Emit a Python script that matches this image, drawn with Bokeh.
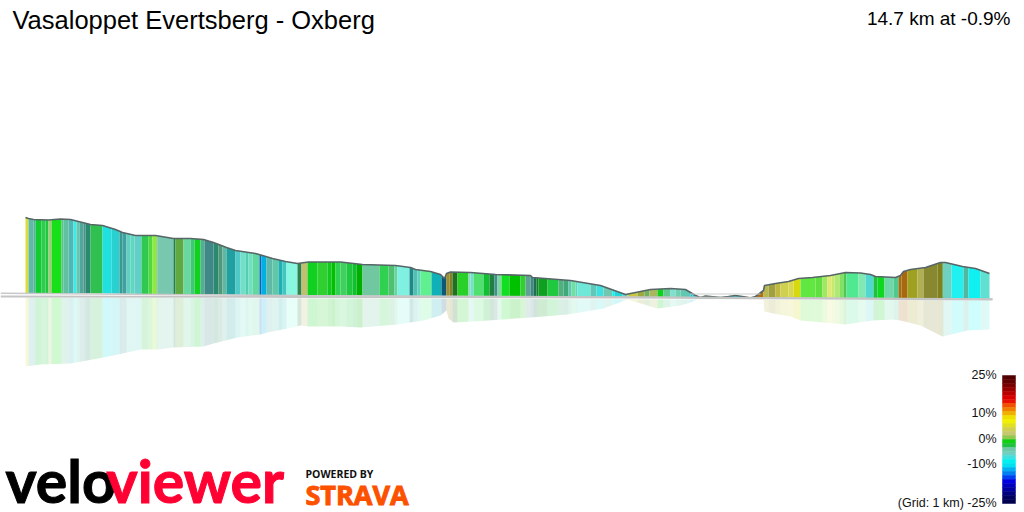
from bokeh.plotting import figure
from bokeh.embed import file_html
from bokeh.resources import INLINE
from bokeh.core.properties import value

title_text = "Vasaloppet Evertsberg - Oxberg"
summary_text = "14.7 km at -0.9%"

segment_edges = [25,
    28, 33, 35, 41, 45, 48, 51, 61, 63, 68,
    73, 76, 79, 83, 85, 90, 102, 111, 119, 122,
    126, 130, 134, 141, 148, 152, 156, 157, 173, 175,
    183, 190, 194, 200, 204, 213, 218, 222, 226, 235,
    240, 245, 248, 252, 259, 261, 266, 272, 278, 282,
    286, 297, 301, 307, 317, 327, 331, 335, 340, 346,
    352, 356, 362, 379, 388, 394, 397, 409, 413, 417,
    420, 431, 441, 446, 449, 452, 457, 468, 470, 473,
    483, 489, 494, 497, 501, 509, 520, 525, 530, 533,
    536, 538, 547, 558, 563, 568, 571, 575, 577, 590,
    596, 603, 612, 614, 622, 627, 637, 644, 649, 657,
    663, 670, 675, 680, 690, 692, 697, 702, 706, 715,
    722, 730, 735, 745, 753, 763, 768, 775, 780, 788,
    793, 800, 815, 822, 827, 831, 834, 839, 843, 846,
    858, 865, 873, 877, 884, 893, 898, 901, 907, 917,
    923, 937, 942, 943, 951, 963, 968, 980, 989]
segment_colors = [
    "#dcdc3c", "#60b8a8", "#58b0a0", "#10cc30", "#30cc50", "#20c840", "#a8c880", "#18e018", "#60c090", "#60c0a0",
    "#50b8b0", "#40e8e8", "#60c8b0", "#50a898", "#50908a", "#2a8a70", "#30c050", "#20e0e0", "#28d0d0", "#3a9a90",
    "#40a0a0", "#60d0c0", "#60d8c0", "#60d0c8", "#30c850", "#50d840", "#90e840", "#60c040", "#78c8b0", "#208050",
    "#60a840", "#68d8a0", "#40c878", "#10d020", "#50b090", "#408888", "#2a8a70", "#509878", "#60b8a0", "#20a0a0",
    "#50c8c8", "#70e0c8", "#50d0b0", "#70e0c0", "#60d8a0", "#1060c0", "#00b0e0", "#60b8a8", "#60c8a8", "#20b0b0",
    "#40c8c0", "#88f8e0", "#308050", "#c0c070", "#10d020", "#30d030", "#10c820", "#00c000", "#30d050", "#40d060",
    "#20c840", "#10c030", "#00b000", "#70c8a0", "#30d050", "#50c070", "#60d8a0", "#80f0e0", "#208888", "#50c0b0",
    "#60d0c0", "#60f090", "#10b0b8", "#105878", "#a09020", "#808030", "#207020", "#28d028", "#90d8c0", "#70e0d0",
    "#50e070", "#10c030", "#208040", "#409090", "#80d8a0", "#10e020", "#00c000", "#30d030", "#60a090", "#408888",
    "#207050", "#108030", "#10a020", "#20c840", "#50b080", "#40a878", "#60c8b0", "#70e0a0", "#60d8c0", "#70e8d8",
    "#60c8b8", "#40e0e0", "#70c8b0", "#10f0f0", "#20d8d8", "#60d0d0", "#c8c840", "#a0a840", "#70b060", "#a8b860",
    "#10d020", "#60c890", "#80e0d0", "#70d0b0", "#60c8b0", "#10c0f0", "#30d0d0", "#d0d060", "#80e0a0", "#50c8b0",
    "#a0d860", "#10c020", "#10d0d0", "#10c8f0", "#c08010", "#b07010", "#b8b850", "#a0a040", "#c0b840", "#d0d050",
    "#d8d850", "#d8d810", "#60e840", "#60e040", "#a0e860", "#e0e870", "#c8e870", "#b0e870", "#80e060", "#50c850",
    "#50e890", "#80e8b0", "#50d8d0", "#20c040", "#10d820", "#70d8a8", "#50c890", "#a07010", "#a86810", "#a0a020",
    "#b0b050", "#888830", "#808020", "#20a040", "#70d0c0", "#20f0f0", "#50b8a0", "#10f0f0", "#60e0d0"]

profile_x = [25, 28, 33, 48, 60, 70, 78, 90, 102, 115, 122, 135, 155, 173, 190, 203, 213, 226, 235, 255,
             262, 272, 285, 297, 308, 340, 362, 395, 410, 415, 430, 440, 444, 446, 450, 470, 495, 530, 532,
             570, 600, 625, 635, 650, 670, 685, 690, 695, 700, 705, 715, 720, 728, 735, 745, 750, 755, 763,
             764, 775, 788, 798, 812, 830, 845, 860, 870, 875, 895, 900, 903, 910, 925, 940, 945, 962, 975, 989]
profile_top = [217, 218, 219, 219.5, 218.5, 219, 221, 224, 225, 229, 232, 235, 235, 238, 238, 239, 242, 247, 250, 253,
               255, 258, 261, 263, 261.5, 261.5, 264, 265, 267, 269, 271, 274, 278, 273, 271.5, 272, 274, 275, 277,
               280, 285, 294, 292, 289, 288, 289, 292, 295, 297, 295.5, 296.5, 297, 296, 295, 296.5, 297.5, 296, 290,
               285, 283, 281, 278, 277, 275, 272, 272.5, 274, 276, 277, 275, 271, 269, 267, 262, 262, 266, 268, 273]

base_x = [25, 300, 445, 625, 700, 992]
base_y = [292.5, 295, 296, 297, 298, 299]

mirror_x = [25, 40, 70, 103, 122, 140, 157, 173, 203, 213, 237, 260, 267, 287, 300, 308, 340, 360, 397, 410, 423,
            440, 446, 448, 453, 473, 530, 567, 603, 627, 657, 680, 690, 697, 763, 764, 773, 790, 800, 823, 845,
            872, 893, 900, 920, 942, 967, 989]
mirror_bottom = [366, 364, 363, 357, 353, 349, 349, 347, 346, 343, 337, 334, 332, 328, 325, 326, 326, 327, 324, 322, 320,
                 315, 310, 318, 322, 321, 317, 314, 308, 299, 308, 305, 302, 299, 299, 311, 313, 316, 320, 322, 324,
                 320, 319, 320, 325, 336, 330, 329]

legend_ticks = ["25%", "10%", "0%", "-10%", "(Grid: 1 km) -25%"]
legend_tick_y = [374, 412, 438, 463, 502]
legend_colors = ["#500000", "#600000", "#780000", "#980000", "#b80000", "#d80000", "#e81000", "#f05000",
                 "#f08000", "#f0b000", "#f0e000", "#f0f000", "#e0e020", "#d0d050", "#c8c870", "#90c850",
                 "#10d010", "#20c040", "#70c8a8", "#70d0c0", "#40e0e0", "#00f0f0", "#00e0f0", "#00b0f0",
                 "#0080f0", "#0040f0", "#0000e0", "#0000c0", "#0000a0", "#000080", "#000060", "#000050"]

assert len(segment_edges) == len(segment_colors) + 1
assert len(profile_x) == len(profile_top)
assert len(mirror_x) == len(mirror_bottom)

p = figure(width=1024, height=512, x_range=(0, 1024), y_range=(512, 0),
           output_backend="svg", toolbar_location=None, min_border=0,
           outline_line_color=None, background_fill_color="white")
p.axis.visible = False
p.grid.visible = False

lefts, rights = segment_edges[:-1], segment_edges[1:]

# profile bands, cut to shape by white masks
p.quad(left=lefts, right=rights, top=205, bottom=302, fill_color=segment_colors, line_color=None)
p.patch([0] + profile_x + [1024, 1024, 0], [290] + profile_top + [290, 0, 0], fill_color="white", line_color=None)
p.patch([0] + base_x + [1024, 1024, 0], [base_y[0]] + base_y + [base_y[-1], 400, 400], fill_color="white", line_color=None)

# reflection
p.quad(left=lefts, right=rights, top=296, bottom=372, fill_color=segment_colors, fill_alpha=0.2, line_color=None)
p.patch([0] + base_x + [1024, 1024, 0], [base_y[0]] + base_y + [base_y[-1], 300, 297], fill_color="white", line_color=None)
p.patch([0] + mirror_x + [1024, 1024, 0], [296] + mirror_bottom + [299, 380, 380], fill_color="white", line_color=None)

# outline and grid plane
p.line(profile_x, profile_top, line_color="#566667", line_width=1.6)
p.line([0, 300, 625, 992], [292.7, 295, 296.5, 298.5], line_color="#c8c8c8", line_width=1.5)
p.line([0, 300, 625, 992], [296, 296.5, 297, 299], line_color="#c4c4c4", line_width=1.8)
p.line([690, 760], [293.5, 293.5], line_color="#cccccc", line_width=1)

# colour legend
n = len(legend_colors)
leg_y = [375 + 128 * i / n for i in range(n + 1)]
p.quad(left=1002, right=1015, top=leg_y[:-1], bottom=leg_y[1:], fill_color=legend_colors,
       line_color=legend_colors, line_width=0.5)
p.text(x=[996] * len(legend_ticks), y=legend_tick_y, text=legend_ticks, text_align="right",
       text_baseline="middle", text_font=value("Liberation Sans"), text_font_size="12.5px", text_color="#111111")

# headings
p.text(x=[12], y=[19], text=[title_text], text_font=value("Liberation Sans"), text_font_size="25.5px",
       text_baseline="middle", text_color="#000000")
p.text(x=[1010], y=[18], text=[summary_text], text_align="right", text_font=value("Liberation Sans"),
       text_font_size="19px", text_baseline="middle", text_color="#000000")

# wordmarks
p.text(x=[5], y=[480], text=["velo"], text_font=value("Lato"), text_font_style="bold", text_font_size="59px",
       text_baseline="middle", text_color="#000000", text_outline_color="#000000")
p.text(x=[106], y=[480], text=["viewer"], text_font=value("Lato"), text_font_style="bold", text_font_size="59px",
       text_baseline="middle", text_color="#ff0033", text_outline_color="#ff0033")
p.text(x=[305], y=[473], text=["POWERED BY"], text_font=value("Open Sans"), text_font_style="bold",
       text_font_size="10.5px", text_baseline="middle", text_color="#111111")
p.text(x=[305], y=[494], text=["STRAVA"], text_font=value("Open Sans"), text_font_style="bold",
       text_font_size="27px", text_baseline="middle", text_color="#fc5200", text_outline_color="#fc5200")

open("out.html", "w").write(file_html(p, INLINE))
